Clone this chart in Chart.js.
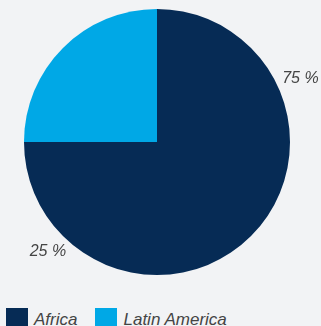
<!DOCTYPE html>
<html>
<head>
<meta charset="utf-8">
<script src="https://cdn.jsdelivr.net/npm/chart.js@4"></script>
<style>
  html, body { margin: 0; padding: 0; background: #f2f3f5; overflow: hidden; }
  #wrap { position: relative; width: 321px; height: 326px; }
  #chartBox { position: absolute; left: 0; top: 0; width: 321px; height: 290px; }
  #legend { position: absolute; left: 6px; top: 308px; display: flex; font-family: "Liberation Sans", Arial, sans-serif; font-style: italic; font-size: 17px; color: #444; }
  .item { display: flex; align-items: flex-start; margin-right: 18px; }
  .swatch { width: 22px; height: 22px; margin-right: 6px; }
  .item span { line-height: 22px; margin-top: 1px; }
</style>
</head>
<body>
<div id="wrap">
  <div id="chartBox"><canvas id="pie"></canvas></div>
  <div id="legend"></div>
</div>
<script>
// Regional share
const regions = ['Africa', 'Latin America'];
const shares = [75, 25];
const colors = ['#062b55', '#00a8e6'];
// where each percentage sits: angle in degrees (0 = right, clockwise) and distance in radii
const labelSpots = [[-24, 1.18], [135, 1.16]];

// Percent labels outside the pie
const pctLabels = {
    id: 'pctLabels',
    afterDraw(chart) {
        const arc = chart.getDatasetMeta(0).data[0];
        const ctx = chart.ctx;
        ctx.save();
        ctx.font = 'italic 16px "Liberation Sans", Arial, sans-serif';
        ctx.fillStyle = '#444';
        ctx.textAlign = 'center';
        ctx.textBaseline = 'middle';
        shares.forEach(function(v, i) {
            const a = labelSpots[i][0] * Math.PI / 180;
            const d = arc.outerRadius * labelSpots[i][1];
            ctx.fillText(v + ' %', arc.x + Math.cos(a) * d, arc.y + Math.sin(a) * d);
        });
        ctx.restore();
    }
};

new Chart(document.getElementById('pie'), {
    type: 'pie',
    data: {
        labels: regions,
        datasets: [{
            data: shares,
            backgroundColor: colors,
            borderWidth: 0
        }]
    },
    options: {
        responsive: true,
        maintainAspectRatio: false,
        animation: false,
        layout: { padding: { left: 24, right: 31, top: 9, bottom: 15 } },
        plugins: {
            legend: { display: false },
            tooltip: { enabled: false }
        }
    },
    plugins: [pctLabels]
});

// Legend below the chart
const legend = document.getElementById('legend');
regions.forEach(function(name, i) {
    const item = document.createElement('div');
    item.className = 'item';
    item.innerHTML = '<div class="swatch" style="background:' + colors[i] + '"></div><span>' + name + '</span>';
    legend.appendChild(item);
});
</script>
</body>
</html>
